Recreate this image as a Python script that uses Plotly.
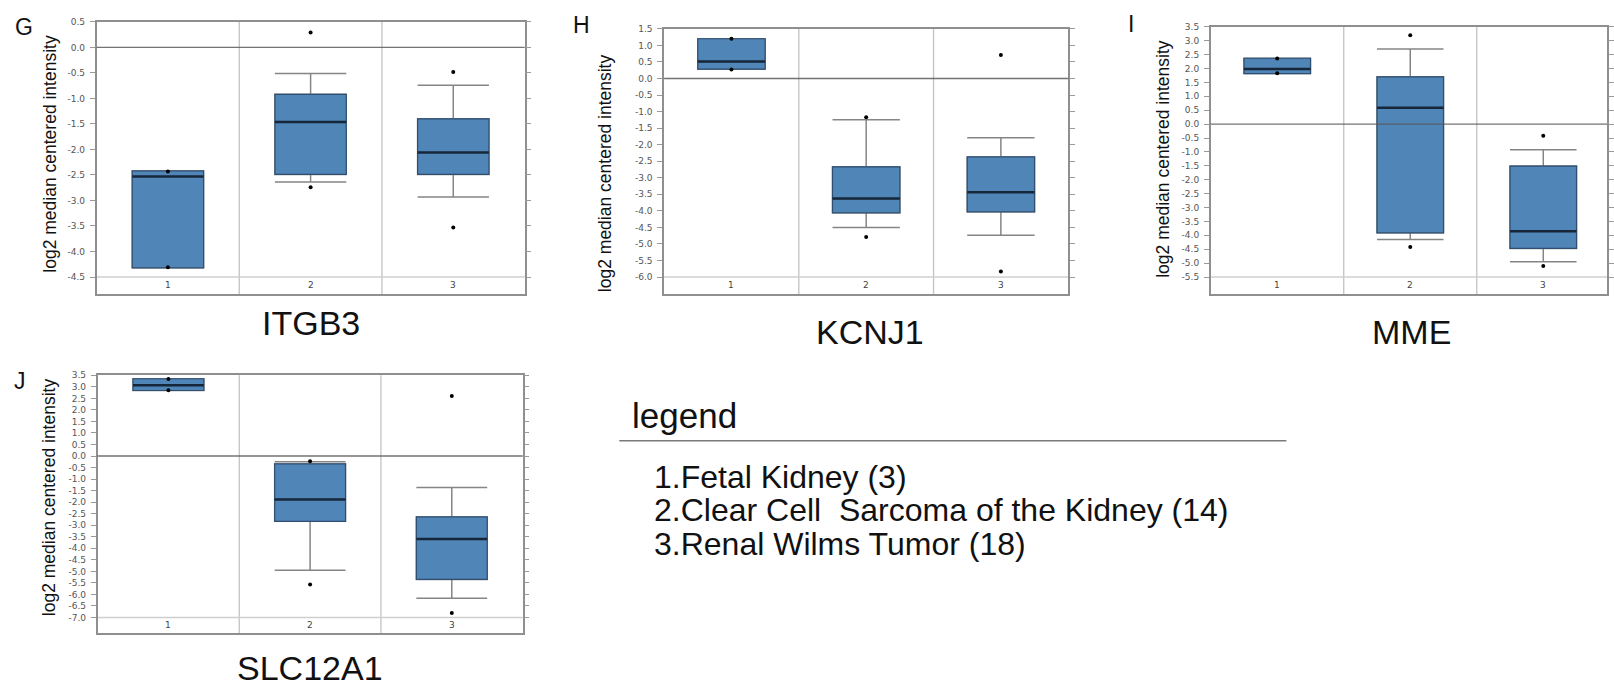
import plotly.graph_objects as go

W, H = 1614, 689

# ---- data -------------------------------------------------------------
categories = [1, 2, 3]
category_labels = ["1", "2", "3"]
genes = ["ITGB3", "KCNJ1", "MME", "SLC12A1"]
panel_letters = ["G", "H", "I", "J"]

# ITGB3
itgb3_q1 = [-4.32, -2.49, -2.49]
itgb3_median = [-2.53, -1.46, -2.06]
itgb3_q3 = [-2.42, -0.92, -1.40]
itgb3_whisker_low = [-4.32, -2.64, -2.93]
itgb3_whisker_high = [-2.42, -0.51, -0.74]
itgb3_min = [-4.31, -2.74, -3.53]
itgb3_max = [-2.43, 0.29, -0.48]

# KCNJ1
kcnj1_q1 = [0.28, -4.06, -4.03]
kcnj1_median = [0.51, -3.63, -3.44]
kcnj1_q3 = [1.20, -2.67, -2.37]
kcnj1_whisker_low = [0.28, -4.50, -4.74]
kcnj1_whisker_high = [1.20, -1.25, -1.79]
kcnj1_min = [0.27, -4.79, -5.83]
kcnj1_max = [1.20, -1.17, 0.71]

# MME
mme_q1 = [1.82, -3.91, -4.47]
mme_median = [1.98, 0.59, -3.85]
mme_q3 = [2.37, 1.70, -1.51]
mme_whisker_low = [1.82, -4.15, -4.95]
mme_whisker_high = [2.37, 2.70, -0.92]
mme_min = [1.83, -4.42, -5.10]
mme_max = [2.36, 3.20, -0.42]

# SLC12A1
slc12a1_q1 = [2.84, -2.83, -5.35]
slc12a1_median = [3.07, -1.88, -3.60]
slc12a1_q3 = [3.35, -0.34, -2.64]
slc12a1_whisker_low = [2.84, -4.95, -6.17]
slc12a1_whisker_high = [3.35, -0.25, -1.36]
slc12a1_min = [2.85, -5.57, -6.80]
slc12a1_max = [3.34, -0.23, 2.60]

# y-axis tick span per gene (labelled every 0.5)
y_bottom = [-4.5, -6.0, -5.5, -7.0]
y_top = [0.5, 1.5, 3.5, 3.5]

legend_title = "legend"
legend_entries = [
    "1.Fetal Kidney (3)",
    "2.Clear Cell\u00a0 Sarcoma of the Kidney (14)",
    "3.Renal Wilms Tumor (18)",
]

stats = [
    (itgb3_q1, itgb3_median, itgb3_q3, itgb3_whisker_low, itgb3_whisker_high, itgb3_min, itgb3_max),
    (kcnj1_q1, kcnj1_median, kcnj1_q3, kcnj1_whisker_low, kcnj1_whisker_high, kcnj1_min, kcnj1_max),
    (mme_q1, mme_median, mme_q3, mme_whisker_low, mme_whisker_high, mme_min, mme_max),
    (slc12a1_q1, slc12a1_median, slc12a1_q3, slc12a1_whisker_low, slc12a1_whisker_high,
     slc12a1_min, slc12a1_max),
]

# ---- panel geometry (pixels) -------------------------------------------
# x0, x1, top, grid bottom, frame bottom ; right-most panel runs off the page
panels = [
    dict(x0=97, x1=527, top=17, grid=274, bottom=291, cell=143.3),
    dict(x0=667, x1=1073, top=24, grid=274, bottom=291, cell=135.3),
    dict(x0=1216, x1=1614, top=22, grid=274, bottom=291, cell=133.6),
    dict(x0=98, x1=525, top=373, grid=617, bottom=633, cell=142.3),
]
ylabel_pos = [(50, 150), (607, 169), (1168, 155), (50, 496)]
letter_pos = [(13, 22), (573, 20), (1131, 19), (12, 379)]
title_pos = [(312, 320), (874, 329), (1418, 329), (311, 668)]

SANS = "Liberation Sans, Arial, Helvetica, sans-serif"
TICKFONT = dict(family="DejaVu Sans, Verdana, sans-serif", size=9, color="#555555")
BOX_FILL = "#5085b8"
BOX_EDGE = "#2f4e70"
MEDIAN = "#17273a"
WHISKER = "#858585"
FRAME = "#8f8f8f"

fig = go.Figure()
shapes, annotations = [], []


def px_x(v):
    return v / W


def px_y(v):
    return 1 - v / H


for i, (gene, st, pg) in enumerate(zip(genes, stats, panels)):
    q1, med, q3, wlo, whi, vmin, vmax = st
    n = "" if i == 0 else str(i + 1)
    xa, ya = "x" + n, "y" + n

    # whiskers (grey) underneath the filled boxes
    fig.add_trace(go.Box(
        x=categories, q1=q1, median=med, q3=q3, lowerfence=wlo, upperfence=whi,
        width=0.5, whiskerwidth=1, fillcolor="rgba(0,0,0,0)",
        line=dict(color=WHISKER, width=1.5), boxpoints=False,
        xaxis=xa, yaxis=ya, showlegend=False, hoverinfo="skip"))
    # interquartile boxes
    fig.add_trace(go.Box(
        x=categories, q1=q1, median=med, q3=q3, lowerfence=q1, upperfence=q3,
        width=0.5, whiskerwidth=0, fillcolor=BOX_FILL,
        line=dict(color=BOX_EDGE, width=1.2), boxpoints=False,
        xaxis=xa, yaxis=ya, showlegend=False))
    # medians
    mx, my = [], []
    for c, m in zip(categories, med):
        mx += [c - 0.25, c + 0.25, None]
        my += [m, m, None]
    fig.add_trace(go.Scatter(x=mx, y=my, mode="lines",
                             line=dict(color=MEDIAN, width=2.5),
                             xaxis=xa, yaxis=ya, showlegend=False, hoverinfo="skip"))
    # extreme values
    fig.add_trace(go.Scatter(x=categories + categories, y=vmin + vmax, mode="markers",
                             marker=dict(color="black", size=4),
                             xaxis=xa, yaxis=ya, showlegend=False))

    ppu = (pg["grid"] - pg["top"]) / (y_top[i] - y_bottom[i])
    pad = (pg["bottom"] - pg["grid"]) / ppu
    ymin = y_bottom[i] - pad
    full_w = pg["cell"] * 3
    xmax = 0.5 + 3 * (pg["x1"] - pg["x0"]) / full_w

    nt = int(round((y_top[i] - y_bottom[i]) / 0.5)) + 1
    tickvals = [round(y_bottom[i] + 0.5 * k, 1) for k in range(nt)]
    ticktext = ["%.1f" % v for v in tickvals]

    fig.update_layout(**{
        ("xaxis" + n): dict(domain=[px_x(pg["x0"]), px_x(pg["x1"])], anchor=ya,
                            range=[0.5, xmax], showgrid=False, zeroline=False,
                            showticklabels=False, ticks="", showline=True, mirror=True,
                            linecolor=FRAME, linewidth=1.5, fixedrange=True),
        ("yaxis" + n): dict(domain=[px_y(pg["bottom"]), px_y(pg["top"])], anchor=xa,
                            range=[ymin, y_top[i]], tickvals=tickvals, ticktext=ticktext,
                            tickfont=TICKFONT, ticks="outside", ticklen=5,
                            tickcolor="#9a9a9a", tickwidth=1, ticklabelstandoff=3,
                            showgrid=False, zeroline=False, showline=True,
                            mirror="ticks", linecolor=FRAME, linewidth=1.5,
                            fixedrange=True),
    })

    # category separators
    for s in (1.5, 2.5):
        shapes.append(dict(type="line", xref=xa, yref=ya + " domain", x0=s, x1=s, y0=0, y1=1,
                           line=dict(color="#c2c2c2", width=1.3), layer="below"))
    # lower grid line above the category row
    shapes.append(dict(type="line", xref=xa + " domain", yref=ya, x0=0, x1=1,
                       y0=y_bottom[i], y1=y_bottom[i],
                       line=dict(color="#cfcfcf", width=1.5), layer="below"))
    # zero reference line
    shapes.append(dict(type="line", xref=xa + " domain", yref=ya, x0=0, x1=1, y0=0, y1=0,
                       line=dict(color="rgba(90,90,90,0.85)", width=1.4), layer="above"))

    # category labels in the bottom row
    for c, lab in zip(categories, category_labels):
        annotations.append(dict(x=c, y=y_bottom[i] - pad / 2, xref=xa, yref=ya, text=lab,
                                showarrow=False, font=dict(family=TICKFONT["family"],
                                                           size=9, color="#444444"),
                                xanchor="center", yanchor="middle"))

    # y-axis title
    lx, ly = ylabel_pos[i]
    annotations.append(dict(x=px_x(lx), y=px_y(ly), xref="paper", yref="paper",
                            text="log2 median centered intensity", textangle=-90,
                            showarrow=False, xanchor="center", yanchor="middle",
                            font=dict(family=SANS, size=17.5, color="#111111")))
    # panel letter
    gx, gy = letter_pos[i]
    annotations.append(dict(x=px_x(gx), y=px_y(gy), xref="paper", yref="paper",
                            text=panel_letters[i], showarrow=False, xanchor="left",
                            yanchor="middle", font=dict(family=SANS, size=23, color="#111111")))
    # gene title
    tx, ty = title_pos[i]
    annotations.append(dict(x=px_x(tx), y=px_y(ty), xref="paper", yref="paper",
                            text=gene, showarrow=False, xanchor="center", yanchor="middle",
                            font=dict(family=SANS, size=34, color="#111111")))

# legend block
annotations.append(dict(x=px_x(634), y=px_y(414), xref="paper", yref="paper",
                        text=legend_title, showarrow=False, xanchor="left", yanchor="middle",
                        borderpad=0, font=dict(family=SANS, size=35, color="#111111")))
shapes.append(dict(type="line", xref="paper", yref="paper", x0=px_x(622), x1=px_x(1292),
                   y0=px_y(439), y1=px_y(439), line=dict(color="#7a7a7a", width=1.5)))
for k, entry in enumerate(legend_entries):
    annotations.append(dict(x=px_x(656), y=px_y(475 + 34 * k), xref="paper", yref="paper",
                            text=entry, showarrow=False, xanchor="left", yanchor="middle",
                            borderpad=0, font=dict(family=SANS, size=32, color="#111111")))

fig.update_layout(
    width=W, height=H, margin=dict(l=0, r=0, t=0, b=0),
    paper_bgcolor="white", plot_bgcolor="white",
    boxmode="overlay", showlegend=False,
    shapes=shapes, annotations=annotations,
)

fig.write_html("out.html", config={"displayModeBar": False})
